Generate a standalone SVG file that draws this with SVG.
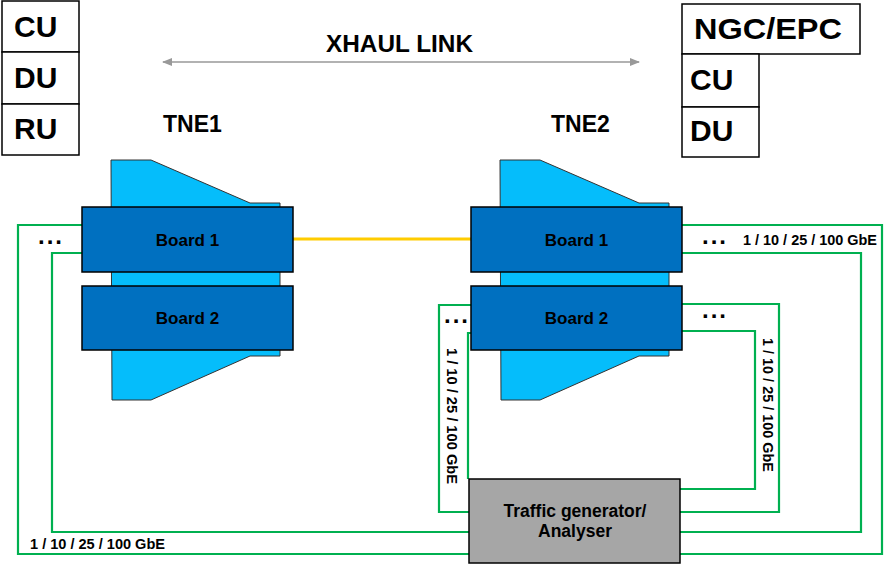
<svg xmlns="http://www.w3.org/2000/svg" width="885" height="565" viewBox="0 0 885 565">
<defs>
<style>
text{font-family:"Liberation Sans",Arial,sans-serif;font-weight:bold;fill:#000}
.box{fill:#fff;stroke:#000;stroke-width:1.5}
.big{font-size:30px}
.tne{font-size:23px}
.chassis{fill:#05BDFB;stroke:#333;stroke-width:1}
.board{fill:#0070C0;stroke:#000;stroke-width:1.5}
.blabel{font-size:17px;text-anchor:middle}
.tg{font-size:17.5px;text-anchor:middle}
.green{fill:none;stroke:#00B050;stroke-width:2.2}
.speed{font-size:14px}
.dots{font-size:24px;letter-spacing:2px}
</style>
<marker id="ah" viewBox="0 0 10 8" refX="9" refY="4" markerWidth="10" markerHeight="8" markerUnits="userSpaceOnUse" orient="auto-start-reverse">
<path d="M0,0 L10,4 L0,8 Z" fill="#999"/>
</marker>
</defs>
<rect width="885" height="565" fill="#fff"/>

<g id="connectors">
<path class="green" d="M82,225 H18 V554 H470"/>
<path class="green" d="M82,253 H52 V532 H470"/>
<path class="green" d="M682,225 H882 V554 H680"/>
<path class="green" d="M682,253 H861 V532 H680"/>
<path class="green" d="M471,305 H439 V512 H470"/>
<path class="green" d="M471,333 H468 V479"/>
<path class="green" d="M682,304 H779 V512 H680"/>
<path class="green" d="M682,331 H755 V489 H680"/>
<line x1="293" y1="239" x2="471" y2="239" stroke="#FFCC00" stroke-width="2.8"/>
<line id="xhaul-arrow" x1="163" y1="62" x2="639" y2="62" stroke="#999" stroke-width="1.5" marker-start="url(#ah)" marker-end="url(#ah)"/>
</g>

<g id="stack-left">
<rect class="box" x="2" y="1" width="77" height="51"/>
<rect class="box" x="2" y="52" width="77" height="52"/>
<rect class="box" x="2" y="104" width="77" height="51"/>
<text class="big" x="14" y="37">CU</text>
<text class="big" x="14" y="88">DU</text>
<text class="big" x="14" y="139">RU</text>
</g>

<g id="stack-right">
<rect class="box" x="682" y="4" width="178" height="50"/>
<rect class="box" x="682" y="54" width="77" height="53"/>
<rect class="box" x="682" y="107" width="77" height="50"/>
<text class="big" x="694" y="39" textLength="148" lengthAdjust="spacingAndGlyphs">NGC/EPC</text>
<text class="big" x="690" y="90">CU</text>
<text class="big" x="690" y="141">DU</text>
</g>

<g id="xhaul-label">
<text class="tne" x="326" y="52" textLength="147" lengthAdjust="spacingAndGlyphs">XHAUL LINK</text>
</g>

<g id="tne1">
<text class="tne" x="163" y="132">TNE1</text>
<polygon class="chassis" points="111,160 151,160 250,203 280,203 280,356 250,356 151,400 112,400"/>
<rect class="board" x="82" y="207" width="211" height="65"/>
<rect class="board" x="82" y="286" width="211" height="64"/>
<text class="blabel" x="187.5" y="246">Board 1</text>
<text class="blabel" x="187.5" y="324">Board 2</text>
</g>

<g id="tne2">
<text class="tne" x="551" y="132">TNE2</text>
<polygon class="chassis" points="500,160 540,160 639,203 669,203 669,356 639,356 540,400 501,400"/>
<rect class="board" x="471" y="207" width="211" height="65"/>
<rect class="board" x="471" y="286" width="211" height="64"/>
<text class="blabel" x="576.5" y="246">Board 1</text>
<text class="blabel" x="576.5" y="324">Board 2</text>
</g>

<g id="traffic-generator">
<rect x="469" y="479" width="211" height="84" fill="#A6A6A6" stroke="#000" stroke-width="1.5"/>
<text class="tg" x="575" y="517">Traffic generator/</text>
<text class="tg" x="575" y="537">Analyser</text>
</g>

<g id="link-labels">
<text class="dots" x="38" y="244">...</text>
<text class="dots" x="444" y="323">...</text>
<text class="dots" x="702" y="244">...</text>
<text class="dots" x="702" y="318">...</text>
<text class="speed" x="743" y="245" textLength="134" lengthAdjust="spacingAndGlyphs">1 / 10 / 25 / 100 GbE</text>
<text class="speed" x="30" y="549" textLength="135" lengthAdjust="spacingAndGlyphs">1 / 10 / 25 / 100 GbE</text>
<text class="speed" transform="translate(447,348) rotate(90)" textLength="136" lengthAdjust="spacingAndGlyphs">1 / 10 / 25 / 100 GbE</text>
<text class="speed" transform="translate(763,338) rotate(90)" textLength="134" lengthAdjust="spacingAndGlyphs">1 / 10 / 25 / 100 GbE</text>
</g>
</svg>
